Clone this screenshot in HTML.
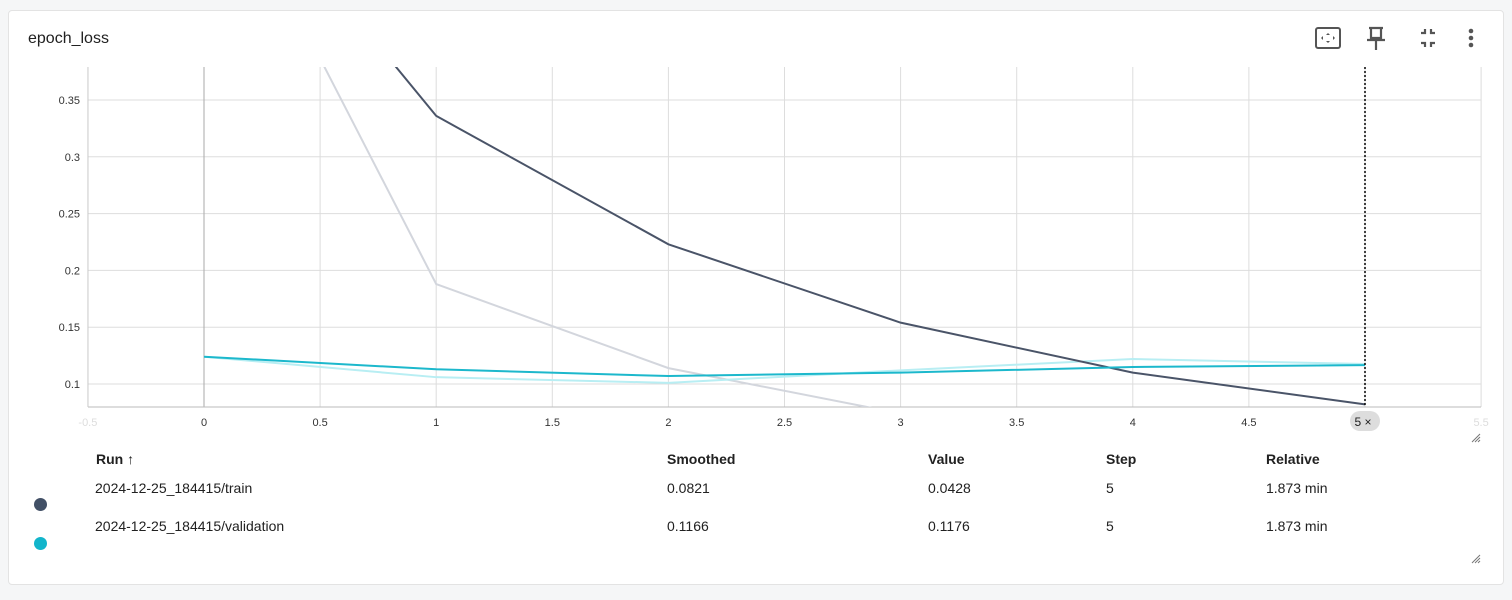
<!DOCTYPE html>
<html><head><meta charset="utf-8"><style>
body{margin:0;width:1512px;height:600px;background:#f5f6f7;font-family:"Liberation Sans",Roboto,sans-serif;overflow:hidden;position:relative}
.card{position:absolute;left:8px;top:10px;width:1494px;height:573px;background:#fff;border:1px solid #e3e3e3;border-radius:4px}
.title{position:absolute;left:28px;top:30px;font-size:16px;color:#212121}
.tbl{position:absolute;font-size:14px;color:#212121}
.h{font-weight:bold}
.dot{position:absolute;width:13px;height:13px;border-radius:50%}
</style></head><body>
<div class="card"></div>
<div class="title">epoch_loss</div>
<svg style="position:absolute;left:0;top:0" width="1512" height="600">
<g><rect x="1316" y="28" width="24" height="20" rx="2" fill="none" stroke="#555" stroke-width="2"/><path d="M1328 33l-2 2h4zM1328 43l-2-2h4zM1321 38l2-2v4zM1335 38l-2-2v4z" fill="#555"/></g>
<g><path d="M1369 28h14M1371 28v10h10v-10M1367 40h18M1376 40v10" stroke="#555" stroke-width="2.2" fill="none"/></g>
<g stroke="#555" stroke-width="2.2" fill="none"><path d="M1421 33h4v-4M1431 29v4h4M1421 43h4v4M1431 47v-4h4"/></g>
<g fill="#555"><circle cx="1471" cy="31" r="2.3"/><circle cx="1471" cy="38" r="2.3"/><circle cx="1471" cy="45" r="2.3"/></g>
<g stroke="#777" stroke-width="1"><path d="M1472 442l8-8M1475 442l5-5M1478 442l2-2"/></g>
<g stroke="#777" stroke-width="1"><path d="M1472 563l8-8M1475 563l5-5M1478 563l2-2"/></g>
</svg>
<svg id="chart" style="position:absolute;left:0;top:0" width="1512" height="440"></svg>
<div class="tbl h" style="left:96px;top:451px">Run ↑</div>
<div class="tbl h" style="left:667px;top:451px">Smoothed</div>
<div class="tbl h" style="left:928px;top:451px">Value</div>
<div class="tbl h" style="left:1106px;top:451px">Step</div>
<div class="tbl h" style="left:1266px;top:451px">Relative</div>
<div class="dot" style="left:34px;top:498px;background:#425066"></div>
<div class="dot" style="left:34px;top:537px;background:#12b5cb"></div>
<div class="tbl" style="left:95px;top:480px">2024-12-25_184415/train</div>
<div class="tbl" style="left:667px;top:480px">0.0821</div>
<div class="tbl" style="left:928px;top:480px">0.0428</div>
<div class="tbl" style="left:1106px;top:480px">5</div>
<div class="tbl" style="left:1266px;top:480px">1.873 min</div>
<div class="tbl" style="left:95px;top:518px">2024-12-25_184415/validation</div>
<div class="tbl" style="left:667px;top:518px">0.1166</div>
<div class="tbl" style="left:928px;top:518px">0.1176</div>
<div class="tbl" style="left:1106px;top:518px">5</div>
<div class="tbl" style="left:1266px;top:518px">1.873 min</div>
<script>
const steps=[0,1,2,3,4,5];
const trainSmoothed=[0.585,0.336,0.223,0.154,0.110,0.0821];
const trainRaw=[0.585,0.188,0.114,0.074,0.052,0.0428];
const valSmoothed=[0.124,0.113,0.107,0.110,0.115,0.1166];
const valRaw=[0.124,0.106,0.101,0.112,0.122,0.1176];
const yTicks=[0.1,0.15,0.2,0.25,0.3,0.35];
const xTicks=[-0.5,0,0.5,1,1.5,2,2.5,3,3.5,4,4.5,5,5.5];
const L=88,R=1481,T=67,B=407;
const sx=v=>204+v*232.2;
const sy=v=>384-(v-0.1)*1136;
const NS="http://www.w3.org/2000/svg";
const svg=document.getElementById('chart');
function mk(t,a){const e=document.createElementNS(NS,t);for(const k in a)e.setAttribute(k,a[k]);svg.appendChild(e);return e;}
const cp=mk('clipPath',{id:'cp'});cp.appendChild(document.createElementNS(NS,'rect'));
cp.firstChild.setAttribute('x',L);cp.firstChild.setAttribute('y',T);cp.firstChild.setAttribute('width',R-L);cp.firstChild.setAttribute('height',B-T);
yTicks.forEach(v=>{
 const l=mk('line',{x1:L,x2:R,y1:sy(v),y2:sy(v),stroke:'#ddd'});
 
 const t=mk('text',{x:80,y:sy(v)+4,'text-anchor':'end','font-size':11,fill:'#333','font-family':'Liberation Sans'});
 t.textContent=String(v);
 
});
xTicks.forEach(v=>{
 const edge=(v<0||v>5);
 const l=mk('line',{x1:sx(v),x2:sx(v),y1:T,y2:B,stroke:v===0?'#aaa':'#ddd'});
 
 if(v===5)return;
 const t=mk('text',{x:sx(v),y:426,'text-anchor':'middle','font-size':11,fill:edge?'#ddd':'#333','font-family':'Liberation Sans'});
 t.textContent=String(v);
 
});
const ax=mk('line',{x1:L,x2:R,y1:B,y2:B,stroke:'#bbb'});

const yax=mk('line',{x1:L,x2:L,y1:T,y2:B,stroke:'#ccc'});

function line(vals,col,w,name){
 const p=mk('polyline',{points:vals.map((v,i)=>sx(steps[i])+','+sy(v)).join(' '),fill:'none',stroke:col,'stroke-width':w,'clip-path':'url(#cp)'});
 
}
line(trainRaw,'#d3d6dd',2,'train-raw-line');
line(valRaw,'#b8eef3',2,'validation-raw-line');
line(trainSmoothed,'#4a5468',2,'train-smoothed-line');
line(valSmoothed,'#1cb8cc',2,'validation-smoothed-line');
const cur=mk('line',{x1:sx(5),x2:sx(5),y1:T,y2:B,stroke:'#000','stroke-width':1.5,'stroke-dasharray':'2,2'});

const pill=mk('rect',{x:sx(5)-15,y:411,width:30,height:20,rx:10,fill:'#ddd'});

const pt=mk('text',{x:sx(5)-2,y:426,'text-anchor':'middle','font-size':12,fill:'#222','font-family':'Liberation Sans'});
pt.textContent='5 ×';

</script>
</body></html>
